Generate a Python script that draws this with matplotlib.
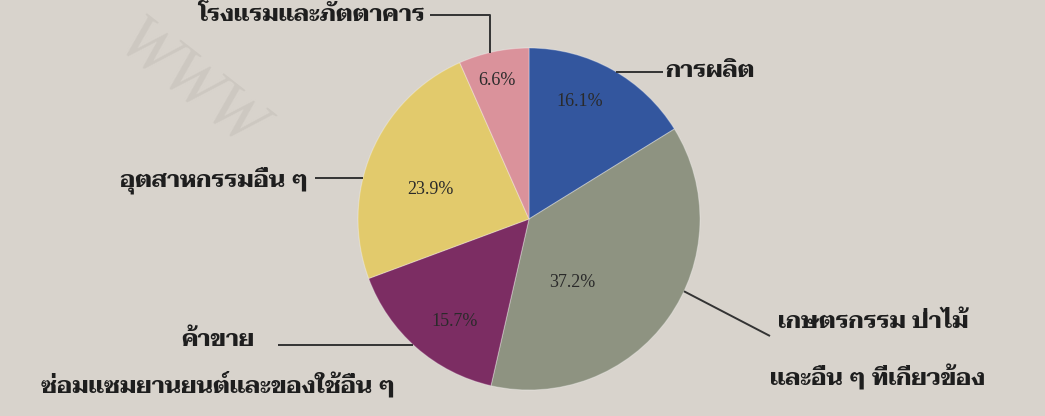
import matplotlib
matplotlib.use("Agg")
import matplotlib.pyplot as plt
from matplotlib import font_manager
import numpy as np

# ---- data ----
categories = ["การผลิต", "เกษตรกรรม ป่าไม้\nและอื่น ๆ ที่เกี่ยวข้อง",
              "ค้าขาย\nซ่อมแซมยานยนต์และของใช้อื่น ๆ", "อุตสาหกรรมอื่น ๆ",
              "โรงแรมและภัตตาคาร"]
values = [16.1, 37.2, 15.7, 23.9, 6.6]
pct_labels = ["16.1%", "37.2%", "15.7%", "23.9%", "6.6%"]

# ---- style ----
colors = ["#33569e", "#8e9381", "#7c2d63", "#e2ca6c", "#da929b"]
bg = "#d8d3cc"
W, H = 1045, 416
cx, cy, R = 529, 219, 171  # pie centre / radius in pixels (layout)

avail = {f.name for f in font_manager.fontManager.ttflist}
thai_font = "DejaVu Sans"
for cand in ["Taviraj", "Noto Serif Thai", "Trirong", "Sarabun", "Noto Sans Thai",
             "Athiti", "Bai Jamjuree", "Anuphan"]:
    if cand in avail:
        thai_font = cand
        break

fig = plt.figure(figsize=(W / 100, H / 100), dpi=100, facecolor=bg)

# faint watermark
fig.text(190 / W, 1 - 85 / H, "WWW", fontsize=48, family="Liberation Serif", style="italic",
         color="#cdc8c1", rotation=-38, ha="center", va="center", zorder=0)

ax = fig.add_axes([(cx - R) / W, (H - cy - R) / H, 2 * R / W, 2 * R / H])
ax.set_facecolor("none")

wedges, texts = ax.pie(
    values, colors=colors, startangle=90, counterclock=False, radius=1.0,
    wedgeprops=dict(linewidth=0.8, edgecolor=(1, 1, 1, 0.3)))
ax.set_xlim(-1, 1)
ax.set_ylim(-1, 1)
ax.set_aspect("equal")
ax.axis("off")

# percentage labels: radius per wedge (layout), angle from the wedge
pct_r = [0.75, 0.45, 0.74, 0.6, 0.83]
pct_dang = [6, -20, 5, 6, 1]
for w, lab, r, da in zip(wedges, pct_labels, pct_r, pct_dang):
    ang = np.deg2rad((w.theta1 + w.theta2) / 2 + da)
    ax.text(r * np.cos(ang), r * np.sin(ang), lab, ha="center", va="center",
            fontsize=13, family="Liberation Serif", color="#2a2a2a")

tkw = dict(fontsize=17, family=thai_font, color="#1e1e1e", fontweight="bold")
lkw = dict(color="#333333", lw=1.4)

def fig_xy(px, py):
    return px / W, 1 - py / H

def to_data(px, py):
    return (px - cx) / R, (cy - py) / R

def edge_at_y(py, side):
    y = (cy - py) / R
    return side * np.sqrt(1 - y * y), y

def edge_at_x(px):
    x = (px - cx) / R
    return x, np.sqrt(1 - x * x)

def edge_at_angle(deg):
    a = np.deg2rad(deg)
    return np.cos(a), np.sin(a)

def leader(pts):
    xs, ys = zip(*pts)
    ax.plot(xs, ys, clip_on=False, solid_capstyle="butt", **lkw)

# การผลิต
leader([to_data(663, 72), edge_at_y(72, 1)])
fig.text(*fig_xy(665, 72), categories[0], ha="left", va="center", **tkw)

# เกษตรกรรม
leader([edge_at_angle(-25), to_data(770, 336)])
l1, l2 = categories[1].split("\n")
fig.text(*fig_xy(778, 322), l1, ha="left", va="center", **tkw)
fig.text(*fig_xy(770, 378), l2, ha="left", va="center", **tkw)

# ค้าขาย
leader([to_data(278, 345), edge_at_y(345, -1)])
l1, l2 = categories[2].split("\n")
fig.text(*fig_xy(218, 340), l1, ha="center", va="center", **tkw)
fig.text(*fig_xy(218, 385), l2, ha="center", va="center", **tkw)

# อุตสาหกรรมอื่น ๆ
leader([to_data(315, 178), edge_at_y(178, -1)])
fig.text(*fig_xy(308, 180), categories[3], ha="right", va="center", **tkw)

# โรงแรมและภัตตาคาร
leader([to_data(430, 15), to_data(490, 15), edge_at_x(490)])
fig.text(*fig_xy(425, 16), categories[4], ha="right", va="center", **tkw)

fig.savefig("out.png", dpi=100, facecolor=bg)
